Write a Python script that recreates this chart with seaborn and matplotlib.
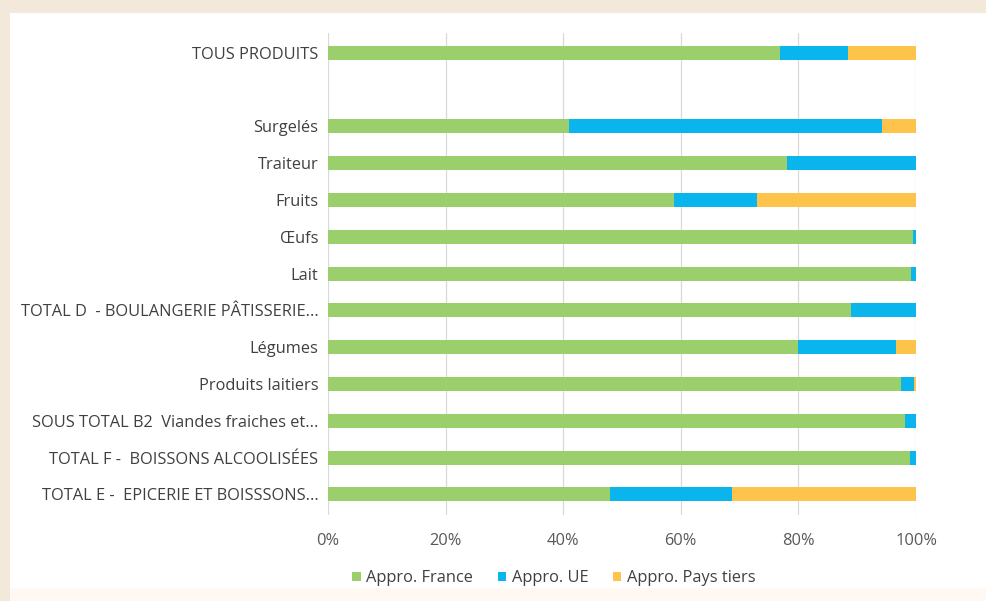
import matplotlib
matplotlib.use("Agg")
import matplotlib.pyplot as plt
from matplotlib.patches import Rectangle, Patch
from matplotlib.ticker import FuncFormatter
import seaborn as sns
import pandas as pd
import numpy as np

# Product families, top to bottom (the empty entry leaves a gap under the overall total)
categories = [
    "TOUS PRODUITS",
    "",
    "Surgelés",
    "Traiteur",
    "Fruits",
    "Œufs",
    "Lait",
    "TOTAL D  - BOULANGERIE PÂTISSERIE...",
    "Légumes",
    "Produits laitiers",
    "SOUS TOTAL B2  Viandes fraiches et...",
    "TOTAL F -  BOISSONS ALCOOLISÉES",
    "TOTAL E -  EPICERIE ET BOISSSONS...",
]

# Share of supply by origin (%)
appro_france = [76.9, np.nan, 41.0, 78.1, 58.9, 99.5, 99.1, 89.0, 79.9, 97.4, 98.2, 98.9, 48.0]
appro_ue = [11.5, np.nan, 53.2, 21.9, 14.0, 0.5, 0.9, 11.0, 16.7, 2.2, 1.8, 1.1, 20.7]
appro_tiers = [11.6, np.nan, 5.8, 0.0, 27.1, 0.0, 0.0, 0.0, 3.4, 0.4, 0.0, 0.0, 31.3]

series_names = ["Appro. France", "Appro. UE", "Appro. Pays tiers"]
series_colors = ["#9BCF6B", "#0AB4EC", "#FDC34A"]
x_ticks = [0, 20, 40, 60, 80, 100]

df = pd.DataFrame({
    "categorie": categories,
    "france": appro_france,
    "ue": appro_ue,
    "tiers": appro_tiers,
})
df["cum_france"] = df["france"]
df["cum_ue"] = df["france"] + df["ue"]
df["cum_tiers"] = df["france"] + df["ue"] + df["tiers"]

sns.set_style("white")
plt.rcParams["font.family"] = ["Open Sans", "DejaVu Sans"]
fs = 11.8

fig = plt.figure(figsize=(9.86, 6.01), dpi=100, facecolor="#F2E9DA")
# white card
fig.patches.append(Rectangle((10 / 986, 1 - 588 / 601), 1, (588 - 13) / 601,
                             transform=fig.transFigure, facecolor="white",
                             edgecolor="none", zorder=-10))
fig.patches.append(Rectangle((10 / 986, 0), 1, 1 - 588 / 601,
                             transform=fig.transFigure, facecolor="#FFF8F3",
                             edgecolor="none", zorder=-10))

ax = fig.add_axes([328 / 986, 1 - 515 / 601, (916 - 328) / 986, (515 - 33) / 601])
ax.set_facecolor("none")

# stacked segments: draw cumulative totals back to front
for col, color in zip(["cum_tiers", "cum_ue", "cum_france"], series_colors[::-1]):
    sns.barplot(data=df, x=col, y="categorie", order=categories, orient="h",
                color=color, width=0.38, saturation=1, errorbar=None,
                ax=ax, zorder=3, linewidth=0)

ax.set_xlim(0, 100)
ax.set_ylim(12.56, -0.54)
ax.set_xticks(x_ticks)
ax.xaxis.set_major_formatter(FuncFormatter(lambda v, p: f"{v:.0f}%"))
ax.grid(axis="x", color="#D9D9D9", linewidth=0.9, zorder=0)
ax.grid(axis="y", visible=False)
for s in ax.spines.values():
    s.set_visible(False)
ax.set_xlabel("")
ax.set_ylabel("")
ax.tick_params(axis="both", length=0, labelsize=fs, labelcolor="#404040")
ax.tick_params(axis="y", pad=7)
ax.tick_params(axis="x", pad=13, labelcolor="#595959")

handles = [Patch(facecolor=c, edgecolor="none") for c in series_colors]
fig.legend(handles, series_names, loc="center", bbox_to_anchor=(554 / 986, 1 - 578 / 601),
           ncol=3, frameon=False, fontsize=fs, handlelength=0.5, handleheight=0.5,
           handletextpad=0.35, columnspacing=1.5, labelcolor="#404040")

fig.savefig("out.png", dpi=100, facecolor=fig.get_facecolor())
